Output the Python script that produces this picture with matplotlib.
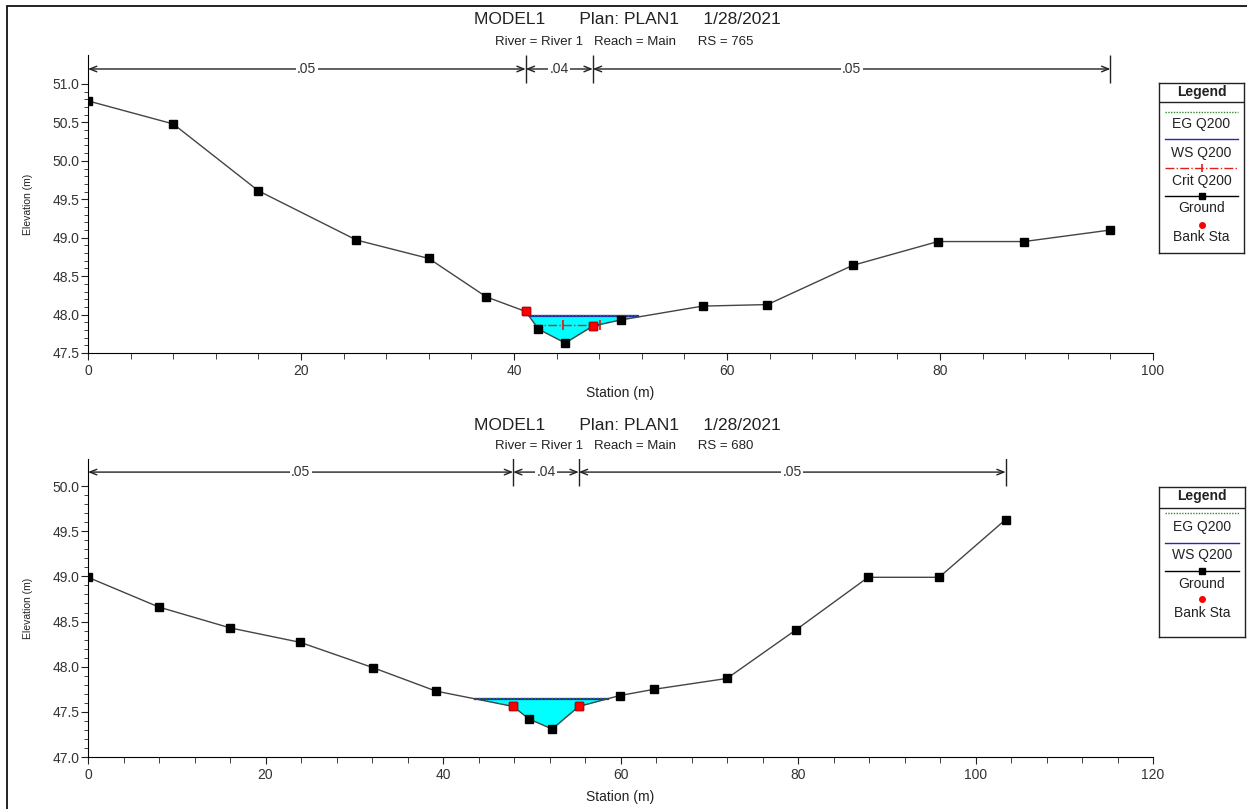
import numpy as np
import matplotlib.pyplot as plt
from matplotlib.patches import Rectangle

plt.rcParams['font.family'] = ['Liberation Sans', 'DejaVu Sans']

W, H = 1247, 809

# Cross section RS = 765
sta_765 = [0, 8, 16, 25.2, 32, 37.4, 41.1, 42.3, 44.8, 47.4, 50, 57.7, 63.8, 71.8, 79.8, 87.9, 96]
elev_765 = [50.78, 50.48, 49.61, 48.97, 48.73, 48.23, 48.04, 47.81, 47.63, 47.85, 47.93,
            48.11, 48.13, 48.64, 48.95, 48.95, 49.10]
bank_765 = [41.1, 47.4]
ws_765 = 47.98
eg_765 = 47.99
ws_sta_765 = [41.5, 51.6]
crit_765 = 47.87
crit_sta_765 = [41.8, 44.6, 48.1]
n_sta_765 = [0, 41.1, 47.4, 96]
n_val_765 = ['.05', '.04', '.05']

# Cross section RS = 680
sta_680 = [0, 8, 16, 23.9, 32.1, 39.2, 47.9, 49.7, 52.3, 55.3, 59.9, 63.8, 72, 79.8, 87.9, 95.9, 103.4]
elev_680 = [48.99, 48.66, 48.43, 48.27, 47.99, 47.73, 47.56, 47.42, 47.31, 47.56, 47.68,
            47.75, 47.87, 48.41, 48.99, 48.99, 49.63]
bank_680 = [47.9, 55.3]
ws_680 = 47.64
eg_680 = 47.65
ws_sta_680 = [43.6, 58.6]
n_sta_680 = [0, 47.9, 55.3, 103.4]
n_val_680 = ['.05', '.04', '.05']

EG_COLOR = '#2e8b2e'
WS_COLOR = '#2828b4'
CRIT_COLOR = '#e02020'


def px_rect(x0, y0, x1, y1):
    return [x0 / W, 1 - y1 / H, (x1 - x0) / W, (y1 - y0) / H]


def draw_panel(ax, sta, elev, bank, ws, eg, ws_sta, n_sta, n_val, n_y, n_half,
               xmax, ylim, yticks, crit=None, crit_sta=None):
    sta = np.array(sta)
    elev = np.array(elev)

    # water fill
    ax.fill_between(sta, elev, ws, where=elev <= ws, interpolate=True,
                    color='#00ffff', lw=0, zorder=1)
    ax.plot(ws_sta, [ws, ws], color=WS_COLOR, lw=1.6, zorder=3)
    ax.plot(ws_sta, [eg, eg], color=EG_COLOR, lw=1, ls=(0, (1, 1.5)), zorder=4)
    if crit is not None:
        ax.plot(crit_sta, [crit] * len(crit_sta), color=CRIT_COLOR, lw=1,
                ls='-.', marker='|', markevery=[1, 2], ms=7, mec=CRIT_COLOR,
                mew=1.3, zorder=4)

    # ground
    ax.plot(sta, elev, color='#444444', lw=1, marker='s', ms=5.5,
            mfc='black', mec='black', zorder=5)
    bank_elev = np.interp(bank, sta, elev)
    ax.plot(bank, bank_elev, ls='none', marker='s', ms=5.5, mfc='red',
            mec='#cc0000', zorder=6)

    # Manning's n annotations
    for i, val in enumerate(n_val):
        a, b = n_sta[i], n_sta[i + 1]
        ax.annotate('', xy=(a, n_y), xytext=(b, n_y),
                    arrowprops=dict(arrowstyle='<->,head_length=0.5,head_width=0.2',
                                    color='#222222', lw=1, shrinkA=0, shrinkB=0))
        ax.text((a + b) / 2, n_y, val, ha='center', va='center', fontsize=10,
                color='#333333', bbox=dict(fc='white', ec='none', pad=1))
    ax.vlines(n_sta[1:], n_y - n_half, n_y + n_half, color='#222222', lw=1)

    ax.set_xlim(0, xmax)
    ax.set_ylim(*ylim)
    ax.set_xticks(np.arange(0, xmax + 1, 20))
    ax.set_xticks(np.arange(0, xmax + 1, 4), minor=True)
    ax.set_yticks(yticks)
    ax.set_yticks(np.arange(yticks[0], yticks[-1] + 0.05, 0.1), minor=True)
    ax.yaxis.set_major_formatter(plt.FormatStrFormatter('%.1f'))
    ax.spines['top'].set_visible(False)
    ax.spines['right'].set_visible(False)
    ax.tick_params(axis='both', which='major', labelsize=10, length=5,
                   colors='#222222', labelcolor='#333333')
    ax.tick_params(axis='both', which='minor', length=3, colors='#222222')
    ax.tick_params(axis='x', which='minor', length=4)
    ax.tick_params(axis='x', which='major', pad=3)
    ax.tick_params(axis='y', pad=1)
    ax.set_xlabel('Station (m)', fontsize=10, color='#222222', labelpad=6)
    ax.set_ylabel('Elevation (m)', fontsize=7.5, color='#222222', labelpad=14)


def draw_legend(rect, height, entries, title_y, sep_y):
    x0, y0, x1, y1 = rect
    w = x1 - x0
    lax = fig.add_axes(px_rect(x0, y0, x1, y1))
    lax.set_xlim(0, w)
    lax.set_ylim(height, 0)
    lax.set_xticks([])
    lax.set_yticks([])
    for s in lax.spines.values():
        s.set_linewidth(1)
        s.set_color('#222222')
    lax.text(w / 2, title_y, 'Legend', ha='center', va='center',
             fontsize=10, fontweight='bold', color='#222222')
    lax.axhline(sep_y, color='#222222', lw=1)
    for kind, line_y, label_y, label in entries:
        if kind == 'eg':
            lax.plot([6, w - 6], [line_y, line_y], color=EG_COLOR, lw=1, ls=(0, (1, 1)))
        elif kind == 'ws':
            lax.plot([6, w - 6], [line_y, line_y], color=WS_COLOR, lw=1)
        elif kind == 'crit':
            lax.plot([6, w / 2, w - 6], [line_y] * 3, color=CRIT_COLOR, lw=1,
                     ls='-.', marker='|', markevery=[1], ms=6, mew=1.2)
        elif kind == 'ground':
            lax.plot([6, w / 2, w - 6], [line_y] * 3, color='black', lw=1,
                     marker='s', markevery=[1], ms=5)
        elif kind == 'bank':
            lax.plot([w / 2], [line_y], ls='none', marker='o', ms=4, color='red')
        lax.text(w / 2, label_y, label, ha='center', va='center',
                 fontsize=10, color='#222222')


fig = plt.figure(figsize=(W / 100, H / 100), dpi=100)
fig.patches.append(Rectangle((7 / W, -0.01), 1.0, 1.01 - 6 / H, transform=fig.transFigure,
                             fill=False, ec='#111111', lw=1.3))

# top panel
ax1 = fig.add_axes(px_rect(88, 55, 1153, 353))
draw_panel(ax1, sta_765, elev_765, bank_765, ws_765, eg_765, ws_sta_765,
           n_sta_765, n_val_765, 51.195, 0.18, 100, (47.5, 51.377),
           [47.5, 48.0, 48.5, 49.0, 49.5, 50.0, 50.5, 51.0],
           crit=crit_765, crit_sta=crit_sta_765)

# bottom panel
ax2 = fig.add_axes(px_rect(88, 459, 1153, 757))
draw_panel(ax2, sta_680, elev_680, bank_680, ws_680, eg_680, ws_sta_680,
           n_sta_680, n_val_680, 50.155, 0.155, 120, (47.0, 50.30),
           [47.0, 47.5, 48.0, 48.5, 49.0, 49.5, 50.0])

# titles
for y_title, y_sub, rs in [(20, 42, '765'), (425, 446, '680')]:
    fig.text(627 / W, 1 - y_title / H, 'MODEL1       Plan: PLAN1     1/28/2021',
             ha='center', va='center', fontsize=12.5, color='#222222')
    fig.text(624 / W, 1 - y_sub / H,
             'River = River 1   Reach = Main      RS = ' + rs,
             ha='center', va='center', fontsize=9.5, color='#222222')

# legends
draw_legend((1159, 83, 1244, 253), 170,
            [('eg', 29, 41, 'EG Q200'), ('ws', 56, 70, 'WS Q200'),
             ('crit', 85, 98, 'Crit Q200'), ('ground', 113, 125, 'Ground'),
             ('bank', 142, 154, 'Bank Sta')], 9, 19)
draw_legend((1159, 487, 1245, 637), 150,
            [('eg', 26, 40, 'EG Q200'), ('ws', 56, 68, 'WS Q200'),
             ('ground', 84, 97, 'Ground'), ('bank', 112, 126, 'Bank Sta')], 9, 21)

fig.savefig('out.png', dpi=100)
